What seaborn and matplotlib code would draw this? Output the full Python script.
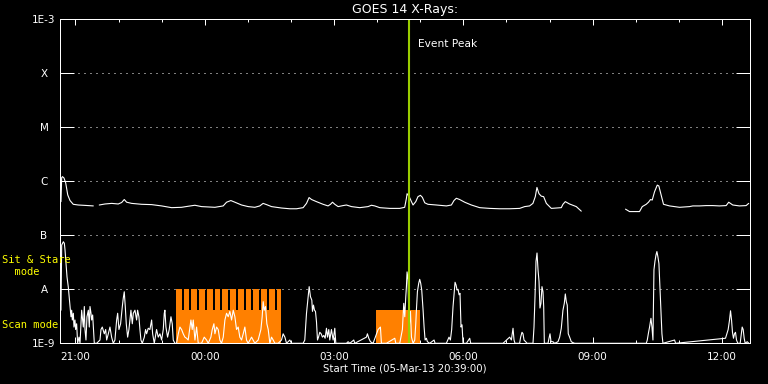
import numpy as np
import pandas as pd
import matplotlib
matplotlib.use("Agg")
import matplotlib.pyplot as plt
import seaborn as sns
from matplotlib.ticker import FixedLocator, NullLocator

nan = float("nan")

# ---------------- data (time = minutes after start time 05-Mar-13 20:39:00) ----------------
start_label = "Start Time (05-Mar-13 20:39:00)"
title = "GOES 14 X-Rays:"

# GOES long channel (1-8 A), W/m^2  (NaN = data gap)
long_t = [0.8, 1.8, 2.9, 5.0, 7.4, 10.2, 13.4, 17.9, 24.9, 38.8, 45.8, 50.0, 54.1, 62.0, 71.4,
          80.5, 85.3, 88.9, 92.2, 99.2, 113.1, 127.0, 140.9, 154.8, 168.7, 177.9, 187.2, 196.5,
          215.1, 226.6, 231.3, 237.3, 242.9, 252.2, 261.4, 270.7, 277.6, 282.2, 287.0, 293.9,
          307.8, 319.4, 328.7, 337.9, 342.6, 346.2, 349.6, 356.5, 365.7, 372.6, 376.0, 378.8,
          382.0, 386.6, 393.5, 398.2, 405.2, 416.7, 428.3, 433.0, 437.6, 444.6, 458.5, 472.4,
          479.3, 481.7, 482.6, 485.3, 488.7, 490.9, 494.7, 497.8, 501.2, 503.9, 507.2, 511.7,
          523.4, 537.3, 544.3, 547.9, 551.2, 555.8, 562.8, 572.1, 583.7, 597.6, 611.5, 625.4,
          639.3, 646.3, 653.2, 657.8, 661.1, 663.4, 666.2, 669.5, 672.7, 676.5, 683.4, 697.3,
          699.6, 702.9, 708.8, 718.2, 725.1, 750.0, 786.7, 792.3, 806.2, 810.0, 815.5, 818.7,
          821.5, 823.9, 827.1, 830.9, 833.1, 836.4, 839.6, 848.0, 861.9, 875.8, 880.4, 889.7,
          899.0, 908.2, 917.5, 926.8, 930.4, 936.0, 945.3, 954.6, 958.2]
long_flux = [4.2e-7, 1.17e-6, 1.22e-6, 1.15e-6, 9.3e-7, 5.6e-7, 4.4e-7, 3.75e-7, 3.64e-7, 3.55e-7,
             3.5e-7, nan, 3.64e-7, 3.8e-7, 3.9e-7, 3.8e-7, 4.05e-7, 4.6e-7, 4.1e-7, 3.9e-7,
             3.75e-7, 3.7e-7, 3.5e-7, 3.25e-7, 3.3e-7, 3.45e-7, 3.6e-7, 3.4e-7, 3.3e-7, 3.5e-7,
             4.1e-7, 4.4e-7, 4.1e-7, 3.64e-7, 3.4e-7, 3.3e-7, 3.5e-7, 3.9e-7, 3.7e-7, 3.4e-7,
             3.2e-7, 3.1e-7, 3.1e-7, 3.25e-7, 3.9e-7, 5.0e-7, 4.6e-7, 4.2e-7, 3.75e-7, 3.5e-7,
             3.75e-7, 4.1e-7, 3.75e-7, 3.4e-7, 3.55e-7, 3.64e-7, 3.4e-7, 3.25e-7, 3.4e-7, 3.6e-7,
             3.5e-7, 3.25e-7, 3.15e-7, 3.15e-7, 3.3e-7, 4.85e-7, 5.9e-7, 5.3e-7, 4.2e-7, 3.64e-7,
             4.2e-7, 5.2e-7, 5.5e-7, 5.05e-7, 4.0e-7, 3.75e-7, 3.64e-7, 3.5e-7, 3.64e-7, 4.4e-7,
             4.85e-7, 4.6e-7, 4.1e-7, 3.64e-7, 3.25e-7, 3.15e-7, 3.1e-7, 3.1e-7, 3.15e-7, 3.4e-7,
             3.5e-7, 3.9e-7, 5.2e-7, 7.7e-7, 5.9e-7, 5.3e-7, 5.2e-7, 3.9e-7, 3.15e-7, 3.25e-7,
             3.75e-7, 4.2e-7, 3.8e-7, 3.4e-7, 2.8e-7, nan, 3.05e-7, 2.75e-7, 2.75e-7, 3.4e-7,
             3.75e-7, 4.1e-7, 4.6e-7, 4.5e-7, 6.4e-7, 8.5e-7, 8.2e-7, 5.5e-7, 3.75e-7, 3.5e-7,
             3.3e-7, 3.4e-7, 3.5e-7, 3.5e-7, 3.55e-7, 3.55e-7, 3.5e-7, 3.55e-7, 4.1e-7, 3.64e-7,
             3.5e-7, 3.55e-7, 3.9e-7]

# GOES short channel (0.5-4 A), in units of 1e-9 W/m^2
short_t = [0.8, 1.8, 4.1, 5.5, 6.4, 7.8, 9.2, 11.0, 12.0, 13.4, 14.7, 15.7, 16.6, 18.0, 18.9, 20.3,
           21.2, 22.6, 24.0, 25.9, 27.3, 29.6, 31.9, 33.3, 34.2, 35.6, 37.0, 38.9, 40.2, 41.2, 42.6,
           43.5, 44.9, 47.2, 50.5, 55.1, 56.5, 58.3, 61.1, 63.0, 64.4, 66.7, 69.0, 71.3, 73.6, 75.9,
           78.3, 79.7, 81.5, 83.8, 86.2, 87.5, 88.9, 90.3, 91.7, 93.6, 95.4, 96.8, 98.2, 100.1,
           101.5, 103.8, 106.1, 107.5, 109.3, 110.7, 112.1, 114.0, 116.8, 118.6, 120.0, 122.3,
           124.6, 127.0, 128.4, 130.7, 133.9, 136.2, 138.6, 140.9, 143.2, 144.6, 145.5, 146.9,
           149.2, 151.5, 153.9, 155.7, 157.1, 159.4, 161.7, 164.1, 166.4, 168.7, 171.0, 173.3,
           175.6, 177.9, 180.3, 181.7, 183.5, 184.9, 187.3, 189.6, 191.9, 196.5, 200.2, 203.5,
           205.8, 209.5, 211.4, 213.7, 215.1, 217.4, 219.7, 222.0, 224.3, 226.7, 229.0, 231.3,
           233.6, 235.9, 238.3, 240.6, 242.9, 245.2, 247.5, 249.8, 252.2, 254.5, 256.8, 259.1,
           261.4, 266.1, 270.7, 275.3, 279.1, 280.9, 282.3, 283.7, 285.5, 287.4, 289.3, 291.6,
           293.9, 296.2, 298.5, 303.2, 307.8, 310.1, 312.5, 314.8, 319.4, 321.7, 326.4,
           337.9, 340.2, 342.6, 344.9, 346.3, 348.1, 350.0, 350.9, 352.3, 353.7, 355.1, 356.5,
           357.9, 359.3, 361.1, 363.0, 364.8, 366.7, 368.5, 370.4, 371.8, 373.6, 375.0, 377.3,
           379.7, 382.0, 383.4, 388.9, 398.2, 400.5, 402.9, 408.4, 409.8, 426.0, 427.4, 429.3,
           431.6, 435.3, 442.3, 445.5, 446.9, 453.9, 465.5, 466.9, 472.4, 476.1, 478.0, 479.4,
           480.8, 481.7, 482.6, 484.0, 485.4, 487.3, 488.7, 491.0, 493.3, 494.7, 495.6, 497.0,
           498.8, 500.2, 501.6, 503.0, 504.9, 506.3, 507.7, 509.5, 510.9, 514.1, 520.2, 521.6,
           537.3, 539.2, 541.0, 542.9, 544.7, 546.6, 548.0, 549.4, 550.8, 552.2, 553.6, 555.0,
           556.3, 557.7, 559.1, 560.5, 565.2, 569.8, 571.2, 616.2, 625.4, 627.8, 630.1, 631.5,
           632.9, 639.3, 640.7, 642.6, 644.0, 645.4, 647.7, 649.6, 657.9, 659.3, 660.7, 662.1,
           663.5, 664.9, 666.3, 667.6, 669.0, 670.4, 671.8, 672.8, 673.7, 678.8, 680.2, 681.6,
           683.0, 685.7, 688.0, 692.7, 695.0, 697.3, 699.6, 701.5, 702.9, 704.3, 705.6, 707.0,
           708.9, 711.2, 713.5, 715.9, 799.3, 815.6, 817.0, 818.8, 820.2, 822.1, 823.5, 824.9,
           826.3, 827.7, 829.1, 830.4, 831.8, 833.2, 834.6, 836.0, 837.4, 838.8, 855.0, 856.4,
           925.9, 927.8, 929.6, 931.5, 932.9, 934.3, 935.6, 937.0, 938.4, 939.8, 941.2, 943.1,
           946.3, 947.7, 949.1, 950.5, 951.9, 953.3, 956.1, 958.4]
short_flux_e9 = [4.1, 66, 76, 71, 54, 30, 17, 11, 7.9, 4.8, 3.1, 4.1, 2.7, 3.6, 2.0, 2.7,
                 1.8, 2.3, 1.0, 1.3, 1.0, 4.1, 2.0, 4.8, 1.8, 1.15, 3.1, 4.1, 2.0, 4.8, 3.6,
                 2.7, 3.35, 1.0, 1.0, 1.15, 1.8, 2.0, 1.5, 1.8, 1.15, 1.5, 2.0, 1.3, 1.0, 1.15,
                 2.7, 3.6, 1.8, 2.3, 4.8, 6.8, 9.0, 4.8, 2.3, 1.3, 1.8, 2.7, 4.1, 2.3,
                 3.6, 4.1, 2.7, 4.1, 3.1, 1.8, 1.15, 1.0, 1.3, 1.8, 1.5, 1.9,
                 1.8, 2.7, 1.5, 1.0, 1.8, 1.3, 1.5, 1.15, 1.8, 3.6, 4.1, 2.0,
                 1.3, 1.8, 3.1, 2.3, 1.15, 1.0, 1.0, 1.5, 2.0, 1.8, 1.5, 1.3,
                 1.24, 1.15, 2.0, 2.7, 1.8, 2.7, 1.15, 2.0, 1.0, 1.0, 1.3, 1.15,
                 1.0, 1.3, 1.8, 2.3, 1.5, 2.0, 1.8, 1.15, 1.0, 1.3, 2.7, 3.6,
                 3.1, 3.9, 2.7, 4.1, 3.1, 1.8, 2.0, 1.3, 1.15, 1.5, 2.0, 1.15,
                 1.0, 1.3, 1.0, 1.15, 1.8, 3.1, 5.9, 4.1, 4.8, 2.3, 1.8, 1.0,
                 1.3, 1.15, 1.0, 1.0, 1.15, 1.5, 1.3, 1.0, 1.15, 1.0, 1.0,
                 1.0, 1.15, 3.6, 7.3, 11.2, 7.3, 6.3, 3.9, 5.1, 4.1, 3.9, 2.5,
                 1.15, 1.3, 1.6, 1.5, 1.3, 1.4, 1.24, 1.9, 1.3, 1.8, 1.15, 1.8,
                 1.15, 1.9, 1.0, 1.0, 1.0, 1.07, 1.0, 1.15, 1.0, 1.3, 1.5, 1.24,
                 1.07, 1.0, 1.8, 2.0, 1.0, 1.0, 1.24, 1.0, 1.0, 1.8, 5.5, 3.1,
                 7.3, 11.2, 21, 15, 1.8, 3.9, 1.3, 1.0, 1.15, 2.3, 4.1, 9.0,
                 12.9, 15.3, 12.9, 9.7, 4.1, 2.0, 1.15, 1.24, 1.07, 1.0, 1.15, 1.0,
                 1.0, 1.15, 1.3, 1.15, 1.8, 4.8, 7.9, 13.5, 12.0, 9.7, 10.0, 7.9,
                 8.4, 2.0, 2.2, 1.0, 1.0, 1.24, 1.0, 1.0, 1.3, 1.15, 1.9, 1.15,
                 1.0, 1.0, 1.3, 1.6, 1.5, 1.15, 1.07, 1.0, 1.0, 2.0, 7.3, 33,
                 47, 23, 14, 4.5, 5.5, 11.2, 9.0, 4.8, 1.0, 1.0, 1.24, 1.5,
                 1.07, 1.07, 1.0, 1.07, 1.3, 1.9, 4.1, 5.5, 8.2, 5.9, 5.1, 1.5,
                 1.3, 1.07, 1.03, 1.0, 1.0, 1.0, 1.15, 1.6, 2.0, 2.9, 2.0, 1.15,
                 23, 33, 43, 50, 40, 30, 11.2, 3.9, 1.5, 1.0, 1.15, 1.0,
                 1.24, 1.5, 1.8, 2.7, 4.0, 2.7, 1.6, 1.24, 1.5, 1.6, 1.15, 1.0,
                 1.0, 1.4, 2.0, 1.8, 1.24, 1.0, 1.07, 1.0]
short_unit = 1e-9

# observing-mode intervals (minutes after start)
sit_stare_start = [160.8, 171.6, 182.4, 193.2, 204.0, 214.8, 225.6, 236.4, 247.2, 258.0,
                   268.8, 279.6, 290.4, 301.2]
sit_stare_end = [168.6, 179.4, 190.2, 201.0, 211.8, 222.6, 233.4, 244.2, 255.0, 265.8,
                 276.6, 287.4, 298.2, 306.6]
scan_start = [160.8, 439.0]
scan_end = [306.6, 501.2]
sit_stare_level = 1e-8
scan_level = 4.1e-9

event_peak_t = 485.0

class_ticks = [1e-9, 1e-8, 1e-7, 1e-6, 1e-5, 1e-4, 1e-3]
class_labels = ["1E-9", "A", "B", "C", "M", "X", "1E-3"]
hour_major_t = [21, 201, 381, 561, 741, 921]
hour_major_labels = ["21:00", "00:00", "03:00", "06:00", "09:00", "12:00"]
hour_minor_t = [81, 141, 261, 321, 441, 501, 621, 681, 801, 861]

# ---------------- plotting ----------------
sns.set_theme(style="ticks")
plt.rcParams["font.family"] = ["DejaVu Sans"]

W, H = 768, 384
fig = plt.figure(figsize=(W / 100, H / 100), dpi=100, facecolor="black")
x0, x1, ytop, ybot = 60.4, 750.0, 19.3, 343.3
ax = fig.add_axes([x0 / W, 1 - ybot / H, (x1 - x0) / W, (ybot - ytop) / H])
ax.set_facecolor("black")
ax.set_yscale("log")
ax.set_xlim(0, 960)
ax.set_ylim(class_ticks[0], class_ticks[-1])

ORANGE = "#ff8000"
floor = class_ticks[0]
ax.bar(scan_start, [scan_level - floor] * len(scan_start), bottom=floor,
       width=np.array(scan_end) - np.array(scan_start), align="edge",
       color=ORANGE, linewidth=0, zorder=1)
ax.bar(sit_stare_start, [sit_stare_level - floor] * len(sit_stare_start), bottom=floor,
       width=np.array(sit_stare_end) - np.array(sit_stare_start), align="edge",
       color=ORANGE, linewidth=0, zorder=1)

for lv in class_ticks[1:-1]:
    ax.axhline(lv, color="white", lw=0.72, ls=(0, (1, 5)), zorder=0.5)

lf = np.array(long_flux, dtype=float)
long_df = pd.DataFrame({"t": long_t, "flux": lf, "seg": np.cumsum(np.isnan(lf))}).dropna()
short_df = pd.DataFrame({"t": short_t, "flux": np.array(short_flux_e9) * short_unit})

sns.lineplot(data=short_df, x="t", y="flux", estimator=None, sort=False, color="white",
             lw=0.8, ax=ax, legend=False, zorder=3)
sns.lineplot(data=long_df, x="t", y="flux", units="seg", estimator=None, sort=False,
             color="white", lw=0.8, ax=ax, legend=False, zorder=3)

ax.axvline(event_peak_t, color="#9acd00", lw=1.5, zorder=5)
ax.annotate("Event Peak", xy=(event_peak_t, 1), xycoords=("data", "axes fraction"),
            xytext=(6.5, -19.7), textcoords="offset points", ha="left", va="baseline",
            color="white", fontsize=7.7)

ax.set_xlabel("")
ax.set_ylabel("")
ax.set_xlim(0, 960)
ax.set_ylim(class_ticks[0], class_ticks[-1])

ax.yaxis.set_major_locator(FixedLocator(class_ticks))
ax.yaxis.set_minor_locator(NullLocator())
ax.set_yticklabels(class_labels)
ax.tick_params(axis="y", which="major", direction="in", length=10, width=0.72, color="white",
               left=True, right=True, labelcolor="white", labelsize=7.5, pad=11.8)
for lab in ax.get_yticklabels():
    lab.set_horizontalalignment("center")

ax.xaxis.set_major_locator(FixedLocator(hour_major_t))
ax.xaxis.set_minor_locator(FixedLocator(hour_minor_t))
ax.set_xticklabels(hour_major_labels)
ax.tick_params(axis="x", which="major", direction="in", length=4.3, width=0.72, color="white",
               top=True, bottom=True, labelcolor="white", labelsize=7.5, pad=6)
ax.tick_params(axis="x", which="minor", direction="in", length=2.2, width=0.72, color="white",
               top=True, bottom=True)

for sp in ax.spines.values():
    sp.set_color("white")
    sp.set_linewidth(0.72)
    sp.set_zorder(6)

ax.set_title(title, color="white", fontsize=9, pad=4.3)

fig.text(405 / W, 1 - 371.7 / H, start_label, ha="center", va="baseline", color="white",
         fontsize=7.3)
mono = ["DejaVu Sans Mono"]
fig.text(2 / W, 1 - 263.3 / H, "Sit & Stare", ha="left", va="baseline", color="#ffff00",
         fontsize=7.5, family=mono)
fig.text(2 / W, 1 - 275 / H, "  mode", ha="left", va="baseline", color="#ffff00",
         fontsize=7.5, family=mono)
fig.text(2 / W, 1 - 327.7 / H, "Scan mode", ha="left", va="baseline", color="#ffff00",
         fontsize=7.5, family=mono)

fig.savefig("out.png", dpi=100, facecolor="black")
